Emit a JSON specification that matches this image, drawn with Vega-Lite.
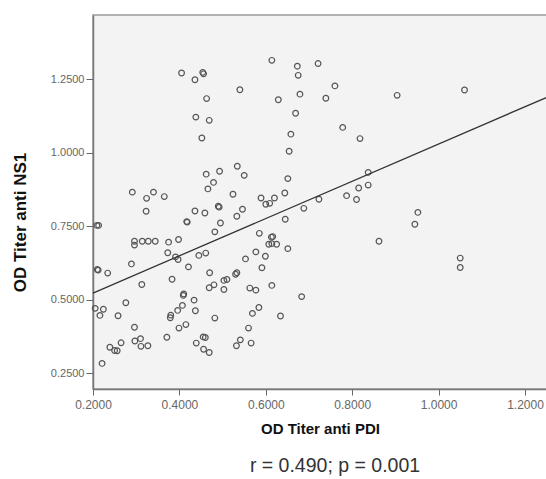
{
  "$schema": "https://vega.github.io/schema/vega-lite/v6.json",
  "width": 454,
  "height": 374,
  "autosize": {"type": "none"},
  "padding": {"left": 93, "top": 15, "right": 0, "bottom": 90},
  "background": "white",
  "config": {
    "view": {"fill": "#f3f3f3", "stroke": "#9a9a9a", "strokeWidth": 1.5},
    "font": "Liberation Sans"
  },
  "title": {
    "text": "r = 0.490; p = 0.001",
    "orient": "bottom",
    "anchor": "middle",
    "font": "Liberation Sans",
    "fontSize": 19.5,
    "fontWeight": "normal",
    "color": "#333333",
    "offset": 21,
    "dx": 15
  },
  "datasets": {
    "points": [
      {"x": 0.405, "y": 1.271}, {"x": 0.436, "y": 1.248}, {"x": 0.454, "y": 1.273}, {"x": 0.456, "y": 1.268},
      {"x": 0.463, "y": 1.184}, {"x": 0.438, "y": 1.121}, {"x": 0.469, "y": 1.110}, {"x": 0.452, "y": 1.050},
      {"x": 0.540, "y": 1.214}, {"x": 0.614, "y": 1.314}, {"x": 0.629, "y": 1.180}, {"x": 0.673, "y": 1.294},
      {"x": 0.675, "y": 1.263}, {"x": 0.679, "y": 1.199}, {"x": 0.669, "y": 1.134}, {"x": 0.658, "y": 1.063},
      {"x": 0.654, "y": 1.005}, {"x": 0.651, "y": 0.912}, {"x": 0.644, "y": 0.863}, {"x": 0.721, "y": 1.303},
      {"x": 0.462, "y": 0.927}, {"x": 0.493, "y": 0.937}, {"x": 0.534, "y": 0.954}, {"x": 0.550, "y": 0.923},
      {"x": 0.479, "y": 0.899}, {"x": 0.466, "y": 0.877}, {"x": 0.524, "y": 0.859}, {"x": 0.291, "y": 0.866},
      {"x": 0.340, "y": 0.866}, {"x": 0.324, "y": 0.845}, {"x": 0.365, "y": 0.851}, {"x": 0.589, "y": 0.846},
      {"x": 0.620, "y": 0.846}, {"x": 0.760, "y": 1.227}, {"x": 0.739, "y": 1.185}, {"x": 0.778, "y": 1.086},
      {"x": 0.818, "y": 1.048}, {"x": 0.904, "y": 1.195}, {"x": 1.060, "y": 1.213}, {"x": 0.837, "y": 0.933},
      {"x": 0.837, "y": 0.890}, {"x": 0.815, "y": 0.880}, {"x": 0.787, "y": 0.854}, {"x": 0.810, "y": 0.841},
      {"x": 0.723, "y": 0.842}, {"x": 0.323, "y": 0.801}, {"x": 0.436, "y": 0.802}, {"x": 0.459, "y": 0.795},
      {"x": 0.490, "y": 0.818}, {"x": 0.492, "y": 0.815}, {"x": 0.546, "y": 0.808}, {"x": 0.533, "y": 0.784},
      {"x": 0.417, "y": 0.766}, {"x": 0.418, "y": 0.764}, {"x": 0.495, "y": 0.761}, {"x": 0.482, "y": 0.731},
      {"x": 0.600, "y": 0.825}, {"x": 0.609, "y": 0.828}, {"x": 0.688, "y": 0.811}, {"x": 0.645, "y": 0.774},
      {"x": 0.585, "y": 0.726}, {"x": 0.613, "y": 0.713}, {"x": 0.616, "y": 0.715}, {"x": 0.607, "y": 0.689},
      {"x": 0.614, "y": 0.691}, {"x": 0.625, "y": 0.689}, {"x": 0.651, "y": 0.674}, {"x": 0.577, "y": 0.663},
      {"x": 0.599, "y": 0.648}, {"x": 0.553, "y": 0.639}, {"x": 0.591, "y": 0.609}, {"x": 0.533, "y": 0.592},
      {"x": 0.530, "y": 0.587}, {"x": 0.510, "y": 0.569}, {"x": 0.503, "y": 0.566}, {"x": 0.503, "y": 0.535},
      {"x": 0.480, "y": 0.551}, {"x": 0.469, "y": 0.541}, {"x": 0.470, "y": 0.592}, {"x": 0.563, "y": 0.540},
      {"x": 0.577, "y": 0.533}, {"x": 0.614, "y": 0.549}, {"x": 0.683, "y": 0.511}, {"x": 0.209, "y": 0.753},
      {"x": 0.213, "y": 0.753}, {"x": 0.296, "y": 0.699}, {"x": 0.296, "y": 0.686}, {"x": 0.314, "y": 0.699},
      {"x": 0.328, "y": 0.699}, {"x": 0.344, "y": 0.699}, {"x": 0.375, "y": 0.696}, {"x": 0.398, "y": 0.705},
      {"x": 0.373, "y": 0.660}, {"x": 0.391, "y": 0.646}, {"x": 0.397, "y": 0.637}, {"x": 0.445, "y": 0.651},
      {"x": 0.461, "y": 0.659}, {"x": 0.421, "y": 0.612}, {"x": 0.289, "y": 0.622}, {"x": 0.210, "y": 0.603},
      {"x": 0.212, "y": 0.601}, {"x": 0.234, "y": 0.591}, {"x": 0.383, "y": 0.570}, {"x": 0.313, "y": 0.552},
      {"x": 0.410, "y": 0.520}, {"x": 0.409, "y": 0.515}, {"x": 0.434, "y": 0.499}, {"x": 0.407, "y": 0.481},
      {"x": 0.396, "y": 0.464}, {"x": 0.380, "y": 0.448}, {"x": 0.379, "y": 0.439}, {"x": 0.437, "y": 0.463},
      {"x": 0.415, "y": 0.416}, {"x": 0.399, "y": 0.404}, {"x": 0.205, "y": 0.471}, {"x": 0.224, "y": 0.468},
      {"x": 0.216, "y": 0.447}, {"x": 0.258, "y": 0.446}, {"x": 0.276, "y": 0.490}, {"x": 0.296, "y": 0.407},
      {"x": 0.371, "y": 0.373}, {"x": 0.297, "y": 0.360}, {"x": 0.310, "y": 0.368}, {"x": 0.311, "y": 0.342},
      {"x": 0.327, "y": 0.344}, {"x": 0.239, "y": 0.339}, {"x": 0.250, "y": 0.328}, {"x": 0.256, "y": 0.327},
      {"x": 0.265, "y": 0.354}, {"x": 0.221, "y": 0.284}, {"x": 0.482, "y": 0.438}, {"x": 0.455, "y": 0.374},
      {"x": 0.460, "y": 0.372}, {"x": 0.439, "y": 0.353}, {"x": 0.456, "y": 0.332}, {"x": 0.469, "y": 0.321},
      {"x": 0.560, "y": 0.404}, {"x": 0.541, "y": 0.364}, {"x": 0.532, "y": 0.344}, {"x": 0.566, "y": 0.353},
      {"x": 0.569, "y": 0.454}, {"x": 0.584, "y": 0.474}, {"x": 0.634, "y": 0.445}, {"x": 0.952, "y": 0.797},
      {"x": 0.945, "y": 0.757}, {"x": 0.862, "y": 0.699}, {"x": 1.050, "y": 0.642}, {"x": 1.050, "y": 0.610}
    ],
    "fit": [
      {"x": 0.2, "y": 0.523},
      {"x": 1.2509, "y": 1.1885}
    ]
  },
  "layer": [
    {
      "data": {"name": "points"},
      "mark": {"type": "point", "shape": "circle", "filled": false, "stroke": "#555555", "strokeWidth": 1.2, "size": 32, "opacity": 1},
      "encoding": {
        "x": {
          "field": "x", "type": "quantitative",
          "scale": {"domain": [0.2, 1.2509], "nice": false, "zero": false},
          "axis": {
            "values": [0.2, 0.4, 0.6, 0.8, 1.0, 1.2],
            "format": ".4f",
            "grid": false,
            "title": "OD Titer anti PDI",
            "titleFont": "Liberation Sans",
            "titleFontSize": 15,
            "titleFontWeight": "bold",
            "titleColor": "#111111",
            "titlePadding": 11,
            "labelFont": "Liberation Sans",
            "labelFontSize": 12,
            "labelColor": "#666666",
            "labelPadding": 4,
            "labelFlush": false,
            "tickSize": 6,
            "tickColor": "#666666",
            "domainColor": "#777777",
            "domainWidth": 1.5
          }
        },
        "y": {
          "field": "y", "type": "quantitative",
          "scale": {"domain": [0.197, 1.468], "nice": false, "zero": false},
          "axis": {
            "values": [0.25, 0.5, 0.75, 1.0, 1.25],
            "format": ".4f",
            "grid": false,
            "title": "OD Titer anti NS1",
            "titleFont": "Liberation Sans",
            "titleFontSize": 17,
            "titleFontWeight": "bold",
            "titleColor": "#111111",
            "titlePadding": 21,
            "titleY": 207,
            "labelFont": "Liberation Sans",
            "labelFontSize": 11,
            "labelColor": "#666666",
            "labelPadding": 2,
            "labelFlush": false,
            "tickSize": 7,
            "tickColor": "#666666",
            "domainColor": "#777777",
            "domainWidth": 1.5
          }
        }
      }
    },
    {
      "data": {"name": "fit"},
      "mark": {"type": "line", "color": "#333333", "strokeWidth": 1.3},
      "encoding": {
        "x": {"field": "x", "type": "quantitative"},
        "y": {"field": "y", "type": "quantitative"}
      }
    }
  ]
}
